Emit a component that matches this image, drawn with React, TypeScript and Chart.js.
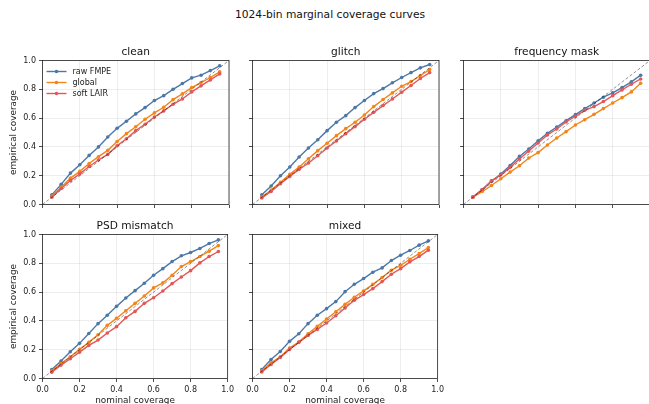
import React, { useEffect, useRef } from 'react';
import { Chart, registerables } from 'chart.js';

Chart.register(...registerables);
Chart.defaults.font.family = '"DejaVu Sans", sans-serif';

const SUPTITLE = '1024-bin marginal coverage curves';
const METHODS = ['raw FMPE', 'global', 'soft LAIR'];
const COLORS = ['#4c78a8', '#f58518', '#e45756'];
const AXIS_TICKS = [0, 0.2, 0.4, 0.6, 0.8, 1.0];
const X_LABEL = 'nominal coverage';
const Y_LABEL = 'empirical coverage';

const NOMINAL = [0.05, 0.1, 0.15, 0.2, 0.25, 0.3, 0.35, 0.4, 0.45, 0.5, 0.55, 0.6, 0.65, 0.7, 0.75, 0.8, 0.85, 0.9, 0.95];

const CLEAN_RAW = [0.067, 0.14, 0.218, 0.276, 0.341, 0.40, 0.469, 0.529, 0.578, 0.629, 0.673, 0.722, 0.756, 0.80, 0.84, 0.879, 0.898, 0.93, 0.963];
const CLEAN_GLOBAL = [0.058, 0.12, 0.183, 0.23, 0.285, 0.332, 0.376, 0.438, 0.492, 0.54, 0.592, 0.636, 0.675, 0.728, 0.768, 0.812, 0.847, 0.882, 0.921];
const CLEAN_LAIR = [0.051, 0.111, 0.167, 0.213, 0.264, 0.309, 0.348, 0.408, 0.457, 0.513, 0.557, 0.608, 0.65, 0.696, 0.733, 0.782, 0.824, 0.865, 0.907];

const GLITCH_RAW = [0.067, 0.128, 0.2, 0.26, 0.33, 0.392, 0.45, 0.513, 0.571, 0.617, 0.673, 0.722, 0.77, 0.805, 0.845, 0.882, 0.916, 0.949, 0.972];
const GLITCH_GLOBAL = [0.051, 0.1, 0.155, 0.209, 0.26, 0.318, 0.374, 0.425, 0.478, 0.527, 0.571, 0.622, 0.68, 0.729, 0.775, 0.821, 0.854, 0.896, 0.937];
const GLITCH_LAIR = [0.046, 0.09, 0.144, 0.195, 0.244, 0.288, 0.339, 0.392, 0.441, 0.492, 0.541, 0.592, 0.64, 0.687, 0.733, 0.78, 0.826, 0.875, 0.916];

const FREQ_RAW = [0.051, 0.104, 0.162, 0.211, 0.271, 0.334, 0.385, 0.443, 0.494, 0.538, 0.582, 0.624, 0.666, 0.705, 0.745, 0.775, 0.812, 0.852, 0.898];
const FREQ_GLOBAL = [0.051, 0.09, 0.132, 0.179, 0.225, 0.269, 0.323, 0.36, 0.413, 0.462, 0.506, 0.552, 0.589, 0.626, 0.666, 0.705, 0.742, 0.782, 0.842];
const FREQ_LAIR = [0.051, 0.102, 0.165, 0.206, 0.258, 0.316, 0.371, 0.427, 0.483, 0.524, 0.573, 0.613, 0.654, 0.68, 0.715, 0.756, 0.796, 0.835, 0.872];

const PSD_RAW = [0.063, 0.121, 0.186, 0.244, 0.313, 0.381, 0.439, 0.501, 0.559, 0.61, 0.661, 0.717, 0.763, 0.812, 0.852, 0.875, 0.903, 0.937, 0.963];
const PSD_GLOBAL = [0.051, 0.104, 0.151, 0.202, 0.251, 0.304, 0.369, 0.418, 0.471, 0.522, 0.573, 0.629, 0.664, 0.717, 0.777, 0.812, 0.847, 0.884, 0.923];
const PSD_LAIR = [0.044, 0.093, 0.137, 0.183, 0.23, 0.267, 0.316, 0.36, 0.422, 0.466, 0.522, 0.561, 0.608, 0.659, 0.705, 0.749, 0.803, 0.847, 0.882];

const MIXED_RAW = [0.063, 0.132, 0.188, 0.258, 0.311, 0.381, 0.439, 0.485, 0.534, 0.603, 0.654, 0.694, 0.738, 0.768, 0.819, 0.856, 0.889, 0.926, 0.956];
const MIXED_GLOBAL = [0.053, 0.109, 0.151, 0.211, 0.253, 0.311, 0.362, 0.413, 0.464, 0.515, 0.564, 0.608, 0.654, 0.701, 0.752, 0.786, 0.828, 0.867, 0.91];
const MIXED_LAIR = [0.046, 0.097, 0.146, 0.202, 0.251, 0.299, 0.341, 0.385, 0.436, 0.49, 0.543, 0.583, 0.624, 0.673, 0.724, 0.763, 0.81, 0.847, 0.891];

const PANELS = [
  { title: 'clean', row: 0, col: 0, series: [CLEAN_RAW, CLEAN_GLOBAL, CLEAN_LAIR], legend: true },
  { title: 'glitch', row: 0, col: 1, series: [GLITCH_RAW, GLITCH_GLOBAL, GLITCH_LAIR], legend: false },
  { title: 'frequency mask', row: 0, col: 2, series: [FREQ_RAW, FREQ_GLOBAL, FREQ_LAIR], legend: false },
  { title: 'PSD mismatch', row: 1, col: 0, series: [PSD_RAW, PSD_GLOBAL, PSD_LAIR], legend: false },
  { title: 'mixed', row: 1, col: 1, series: [MIXED_RAW, MIXED_GLOBAL, MIXED_LAIR], legend: false },
];

// layout constants (pixels)
const COL_LEFT = [0, 210, 421];
const ROW_TOP = [36, 210];
const ROW_HEIGHT = [179, 196];
const CANVAS_W = 237;
const Y_AXIS_W = 42.5;
const TOP_BLOCK = 24.5;
const PLOT_H = 144;
const TITLE_SIZE = 10.6;
const LABEL_SIZE = 8.9;

const TEXT = '#222';

const spinesPlugin = {
  id: 'spines',
  afterDraw(chart: any) {
    const { ctx, chartArea: a } = chart;
    ctx.save();
    ctx.strokeStyle = TEXT;
    ctx.lineWidth = 0.8;
    ctx.strokeRect(a.left, a.top, a.right - a.left, a.bottom - a.top);
    ctx.restore();
  },
};

const legendPlugin = {
  id: 'insideLegend',
  afterDraw(chart: any) {
    const { ctx, chartArea: a } = chart;
    ctx.save();
    ctx.font = '8px "DejaVu Sans"';
    ctx.textBaseline = 'middle';
    ctx.textAlign = 'left';
    METHODS.forEach((name, i) => {
      const y = a.top + 11 + i * 11;
      const x0 = a.left + 4;
      const x1 = a.left + 24;
      ctx.strokeStyle = COLORS[i];
      ctx.lineWidth = 1.4;
      ctx.beginPath();
      ctx.moveTo(x0, y);
      ctx.lineTo(x1, y);
      ctx.stroke();
      ctx.fillStyle = COLORS[i];
      ctx.beginPath();
      ctx.arc((x0 + x1) / 2, y, 1.8, 0, Math.PI * 2);
      ctx.fill();
      ctx.fillStyle = TEXT;
      ctx.fillText(name, a.left + 30, y + 0.5);
    });
    ctx.restore();
  },
};

function Panel({ cfg }: { cfg: any }) {
  const ref = useRef<HTMLCanvasElement | null>(null);
  const height = ROW_HEIGHT[cfg.row];
  const xAxisH = height - TOP_BLOCK - PLOT_H;
  const showX = cfg.row === 1;
  const showY = cfg.col === 0;

  useEffect(() => {
    if (!ref.current) return;
    const datasets: any[] = [
      {
        label: 'diagonal',
        data: [{ x: 0, y: 0 }, { x: 1, y: 1 }],
        borderColor: 'rgba(0,0,0,0.55)',
        borderWidth: 0.8,
        borderDash: [3, 2],
        pointRadius: 0,
        order: 0,
      },
    ];
    METHODS.forEach((m, i) => {
      datasets.push({
        label: m,
        data: NOMINAL.map((x, k) => ({ x, y: cfg.series[i][k] })),
        borderColor: COLORS[i],
        backgroundColor: COLORS[i],
        pointBackgroundColor: COLORS[i],
        pointBorderWidth: 0,
        pointRadius: 1.8,
        borderWidth: 1.4,
        tension: 0,
        order: 3 - i,
      });
    });
    const tickCb = (v: any) => Number(v).toFixed(1);
    const setTicks = (s: any) => {
      s.ticks = AXIS_TICKS.map((v) => ({ value: v }));
    };
    const titleLH = TITLE_SIZE * 1.2;
    const labelLH = LABEL_SIZE * 1.2;
    const chart = new Chart(ref.current, {
      type: 'line',
      data: { datasets },
      plugins: cfg.legend ? [spinesPlugin, legendPlugin] : [spinesPlugin],
      options: {
        animation: false,
        responsive: false,
        devicePixelRatio: 1,
        events: [],
        layout: { padding: { left: 0, top: 0, right: CANVAS_W - Y_AXIS_W - 186.5, bottom: 0 } },
        plugins: {
          legend: { display: false },
          tooltip: { enabled: false },
          title: {
            display: true,
            text: cfg.title,
            fullSize: false,
            color: '#111',
            font: { size: TITLE_SIZE, weight: 'normal' },
            padding: { top: 16 - titleLH / 2, bottom: TOP_BLOCK - titleLH - (16 - titleLH / 2) },
          },
        },
        scales: {
          x: {
            type: 'linear',
            min: 0,
            max: 1,
            afterBuildTicks: setTicks,
            afterFit: (s: any) => {
              s.height = xAxisH;
            },
            ticks: {
              display: showX,
              padding: 3,
              color: TEXT,
              font: { size: 8 },
              maxRotation: 0,
              autoSkip: false,
              callback: tickCb,
            },
            grid: {
              color: 'rgba(0,0,0,0.09)',
              lineWidth: 0.8,
              drawTicks: true,
              tickLength: 3.5,
              tickColor: TEXT,
              tickWidth: 0.8,
            },
            border: { display: false },
            title: {
              display: showX,
              text: X_LABEL,
              color: TEXT,
              font: { size: LABEL_SIZE },
              padding: { top: 0, bottom: Math.max(0, height - 190.5 - labelLH / 2) },
            },
          },
          y: {
            type: 'linear',
            min: 0,
            max: 1,
            afterBuildTicks: setTicks,
            afterFit: (s: any) => {
              s.width = Y_AXIS_W;
            },
            ticks: {
              display: showY,
              padding: 3,
              color: TEXT,
              font: { size: 8 },
              autoSkip: false,
              callback: tickCb,
            },
            grid: {
              color: 'rgba(0,0,0,0.09)',
              lineWidth: 0.8,
              drawTicks: true,
              tickLength: 3.5,
              tickColor: TEXT,
              tickWidth: 0.8,
            },
            border: { display: false },
            title: {
              display: showY,
              text: Y_LABEL,
              color: TEXT,
              font: { size: LABEL_SIZE },
              padding: { top: 14 - labelLH / 2, bottom: 0 },
            },
          },
        },
      } as any,
    });
    return () => chart.destroy();
  }, []);

  return (
    <canvas
      ref={ref}
      width={CANVAS_W}
      height={height}
      style={{
        position: 'absolute',
        left: COL_LEFT[cfg.col],
        top: ROW_TOP[cfg.row],
        width: CANVAS_W,
        height,
      }}
    />
  );
}

export default function App() {
  return (
    <div
      style={{
        position: 'absolute',
        left: 0,
        top: 0,
        width: 649,
        height: 404,
        overflow: 'hidden',
        background: '#fff',
      }}
    >
      <div
        style={{
          position: 'absolute',
          left: 330,
          top: 8,
          transform: 'translateX(-50%)',
          whiteSpace: 'nowrap',
          font: '10.7px "DejaVu Sans", sans-serif',
          lineHeight: '13px',
          color: '#111',
        }}
      >
        {SUPTITLE}
      </div>
      {PANELS.map((p) => (
        <Panel key={p.title} cfg={p} />
      ))}
    </div>
  );
}
